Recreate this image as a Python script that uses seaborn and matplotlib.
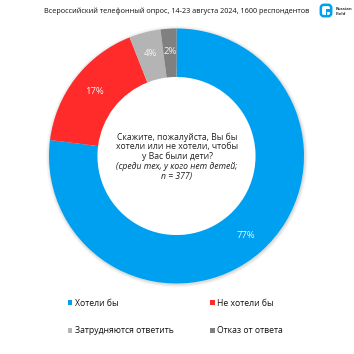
import matplotlib
matplotlib.use('Agg')
import matplotlib.pyplot as plt
import seaborn as sns
from matplotlib.patches import Circle, FancyBboxPatch, Rectangle

categories = ['Хотели бы', 'Не хотели бы', 'Затрудняются ответить', 'Отказ от ответа']
values = [77, 17, 4, 2]
pct_labels = ['77%', '17%', '4%', '2%']
colors = ['#00A0F0', '#FF2A2A', '#B4B4B4', '#808080']
title = 'Всероссийский телефонный опрос, 14-23 августа 2024, 1600 респондентов'
question = 'Скажите, пожалуйста, Вы бы\nхотели или не хотели, чтобы\nу Вас были дети?'
subset = '(среди тех, у кого нет детей;\nn = 377)'

sns.set_theme(style='white', palette=colors)
plt.rcParams['font.family'] = ['Open Sans', 'DejaVu Sans']

W = 354
fig = plt.figure(figsize=(3.54, 3.54), dpi=100)

# кольцо
ax = fig.add_axes([49 / W, 1 - 283.5 / W, 255 / W, 255 / W])
for r, a in [(1.025, 0.05), (1.015, 0.07), (1.007, 0.09)]:
    ax.add_patch(Circle((0.004, -0.006), r, fc='#555555', alpha=a, lw=0, clip_on=False))
ax.add_patch(Circle((0, 0), 0.7, fc='white', lw=0))
wedges, _ = ax.pie(values, colors=sns.color_palette(colors), startangle=90, counterclock=False,
                   radius=1, wedgeprops=dict(width=0.38, linewidth=0))
ax.set_xlim(-1, 1)
ax.set_ylim(-1, 1)

# подписи процентов
label_pos = [(246, 235), (94, 91), (150, 53.5), (170, 51)]
for s, (x, y) in zip(pct_labels, label_pos):
    fig.text(x / W, 1 - y / W, s, color='#f4f4f4', fontsize=6.8, ha='center', va='center')

fig.text(176.5 / W, 1 - 11.5 / W, title, fontsize=5.25, color='#111111', ha='center', va='center')
fig.text(177 / W, 1 - 147 / W, question, fontsize=6.2, color='#222222', ha='center', va='center', linespacing=1.08)
fig.text(177 / W, 1 - 171.5 / W, subset, fontsize=6.2, style='italic', color='#222222', ha='center', va='center', linespacing=1.05)

# легенда
order = [0, 2, 1, 3]
leg = fig.legend([wedges[i] for i in order], [categories[i] for i in order], ncol=2, frameon=False,
                 loc='center left', bbox_to_anchor=(60 / W, 1 - 317 / W), fontsize=6.2, handlelength=0.55,
                 handleheight=0.55, handletextpad=0.25, columnspacing=4.25, labelspacing=2.2, labelcolor='#111111')

# логотип
logo = fig.add_axes([0, 0, 1, 1])
logo.set_xlim(0, W)
logo.set_ylim(W, 0)
logo.axis('off')
logo.add_patch(FancyBboxPatch((322, 6), 8, 9, boxstyle='round,pad=1.2,rounding_size=3', fc='white', ec='#00A0F0', lw=1.8))
logo.add_patch(Rectangle((325.5, 9), 5, 2.5, fc='#00A0F0', lw=0))
logo.add_patch(Rectangle((325.5, 9), 1.6, 8, fc='#00A0F0', lw=0))
fig.text(336 / W, 1 - 11.5 / W, 'Russian\nField', fontsize=3.1, weight='bold', color='#333333', ha='left', va='center', linespacing=1.3)

fig.savefig('out.png', dpi=100)
